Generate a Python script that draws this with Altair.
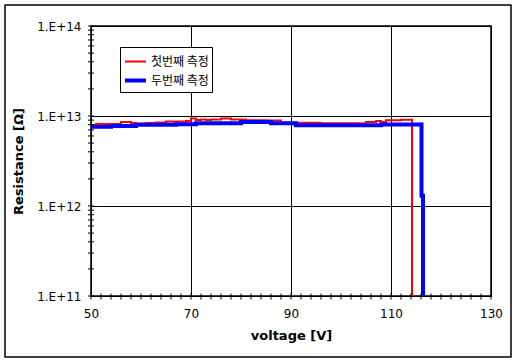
import altair as alt
import pandas as pd

# Series 1 (첫번째 측정): voltage [V] / resistance [Ω] change points (step data)
red_v = [50, 51, 56, 58, 59, 61, 63, 65, 69, 70, 71, 72, 73, 74, 76, 78, 81, 85, 88, 96, 105, 107, 108, 109, 112, 114.2]
red_r = [7.94e12, 8.15e12, 8.58e12, 8.36e12, 8.25e12, 8.36e12, 8.47e12, 8.7e12, 8.82e12, 9.36e12,
         9.03e12, 9.14e12, 9.03e12, 9.14e12, 9.36e12, 9.14e12, 8.98e12, 8.9e12, 8.4e12, 8.3e12,
         8.58e12, 8.8e12, 8.58e12, 8.98e12, 9.1e12, 1e11]
# Series 2 (두번째 측정)
blue_v = [50, 54, 59, 67, 71, 80, 86, 91, 108, 116.1, 116.4]
blue_r = [7.6e12, 7.76e12, 8.0e12, 8.1e12, 8.3e12, 8.58e12, 8.3e12, 7.9e12, 8.05e12, 1.3e12, 1e11]

series_names = ["첫번째 측정", "두번째 측정"]
x_ticks = [50, 70, 90, 110, 130]
y_ticks = [1e11, 1e12, 1e13, 1e14]
x_minor = [float(v) for v in range(50, 131, 2)]
y_minor = [float(m) * 10.0 ** e for e in range(11, 14) for m in range(1, 10)] + [1e14]

rows = []
for v, r in zip(red_v, red_r):
    rows.append({"V": v, "R": r, "s": series_names[0]})
for v, r in zip(blue_v, blue_r):
    rows.append({"V": v, "R": r, "s": series_names[1]})
df = pd.DataFrame(rows)

FONT = "DejaVu Sans"
W, H = 400, 270
xs = alt.Scale(domain=[50, 130], nice=False, zero=False)
ys = alt.Scale(type="log", domain=[1e11, 1e14], nice=False)

lines = alt.Chart(df).mark_line(interpolate="step-after").encode(
    x=alt.X("V:Q", scale=xs,
            axis=alt.Axis(values=x_ticks, title="voltage [V]", grid=True, ticks=False,
                          labelFlush=False, labelPadding=12, titlePadding=10)),
    y=alt.Y("R:Q", scale=ys,
            axis=alt.Axis(values=y_ticks, title="Resistance [Ω]", grid=True, ticks=False,
                          labelFlush=False, labelPadding=10, titlePadding=11,
                          labelExpr="'1.E+' + format(round(log(datum.value)/log(10)), 'd')")),
    color=alt.Color("s:N", scale=alt.Scale(domain=series_names, range=["#ff0000", "#0000ff"]),
                    sort=series_names, title=None,
                    legend=alt.Legend(orient="none", legendX=29, legendY=21)),
    strokeWidth=alt.StrokeWidth("s:N", scale=alt.Scale(domain=series_names, range=[2, 4]),
                                sort=series_names, title=None,
                                legend=alt.Legend(orient="none", legendX=29, legendY=21)),
    detail="s:N",
)

# minor tick marks crossing the axes (ticks centred in the view, shifted onto the axes)
xt = alt.Chart(pd.DataFrame({"V": x_minor})).mark_tick(
    color="black", thickness=1, size=6, opacity=1, yOffset=H / 2 + 0.5
).encode(x=alt.X("V:Q"))

yt = alt.Chart(pd.DataFrame({"R": y_minor})).mark_tick(
    color="black", thickness=1, size=6, opacity=1, xOffset=-W / 2
).encode(y=alt.Y("R:Q"))


# outer chart frame drawn as four long tick strokes
def edge(orient, size, dx, dy):
    return alt.Chart(pd.DataFrame({"e": [0]})).mark_tick(
        orient=orient, size=size, thickness=1.5, color="black", opacity=1,
        xOffset=dx, yOffset=dy
    ).encode(opacity=alt.value(1))


frame_layers = [
    edge("vertical", 352, -286, 20),
    edge("vertical", 352, 220, 20),
    edge("horizontal", 507, -33, -156),
    edge("horizontal", 507, -33, 196),
]

chart = alt.layer(lines, xt, yt, *frame_layers).properties(
    width=W, height=H,
    autosize=alt.AutoSizeParams(type="none"),
    padding={"left": 91, "top": 26, "right": 27, "bottom": 67},
).configure_view(stroke="black", strokeWidth=1.5).configure_axis(
    gridColor="black", gridOpacity=1, gridWidth=1,
    domainColor="black", domainWidth=1,
    labelFont=FONT, labelFontSize=12, labelColor="black",
    titleFont=FONT, titleFontSize=13, titleFontWeight="bold", titleColor="black",
).configure_legend(
    fillColor="white", strokeColor="black", padding=3, rowPadding=0,
    symbolType="stroke", symbolSize=440, symbolStrokeWidth=2,
    labelFont="Noto Sans CJK KR", labelFontSize=12, labelColor="black",
    labelOffset=3, cornerRadius=0,
)

chart.save("out.html", embed_options={"renderer": "svg", "actions": False})
